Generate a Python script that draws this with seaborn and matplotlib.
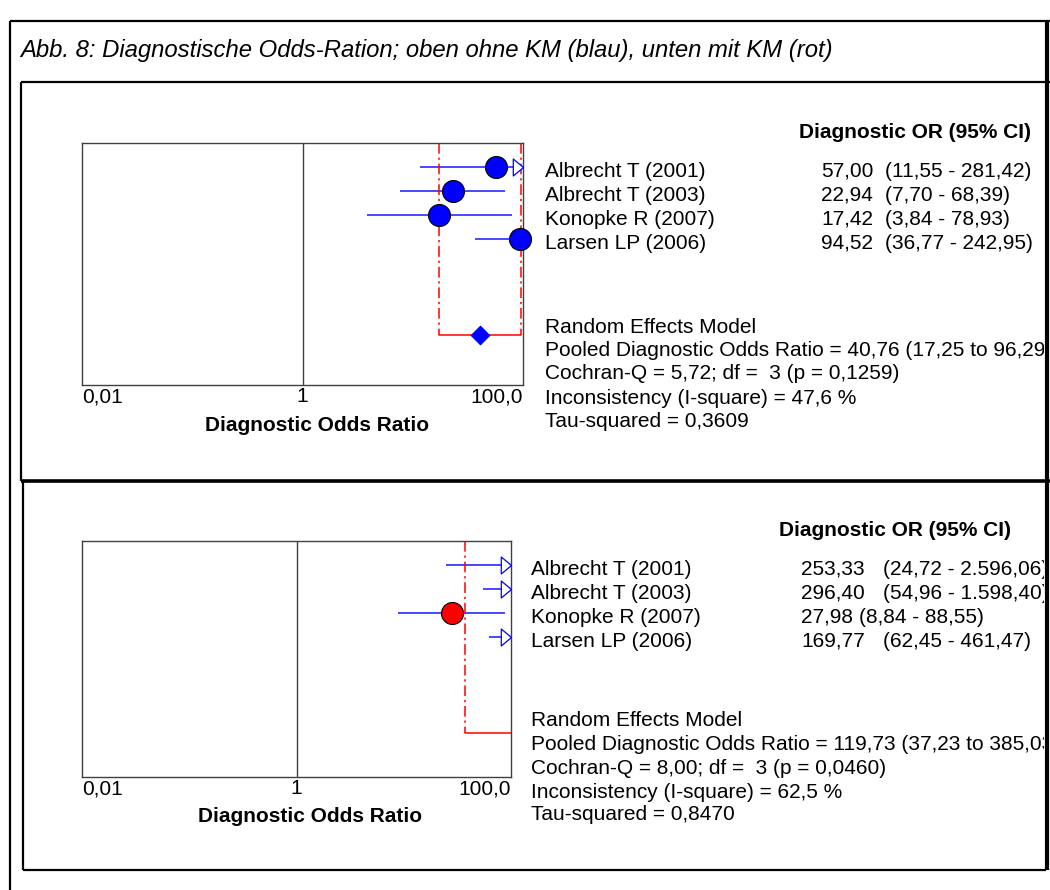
import numpy as np
import matplotlib
matplotlib.use("Agg")
import matplotlib.pyplot as plt
import seaborn as sns
import pandas as pd
from matplotlib import transforms, font_manager
from matplotlib.lines import Line2D
from matplotlib.patches import Rectangle
from matplotlib.path import Path

# ---------------- data ----------------
studies = ["Albrecht T (2001)", "Albrecht T (2003)", "Konopke R (2007)", "Larsen LP (2006)"]

or_top = [57.00, 22.94, 17.42, 94.52]
lo_top = [11.55, 7.70, 3.84, 36.77]
hi_top = [281.42, 68.39, 78.93, 242.95]
pooled_top = [40.76, 17.25, 96.29]
q_top, df_top, p_top, i2_top, tau2_top = 5.72, 3, 0.1259, 47.6, 0.3609

or_bot = [253.33, 296.40, 27.98, 169.77]
lo_bot = [24.72, 54.96, 8.84, 62.45]
hi_bot = [2596.06, 1598.40, 88.55, 461.47]
pooled_bot = [119.73, 37.23, 385.03]
q_bot, df_bot, p_bot, i2_bot, tau2_bot = 8.00, 3, 0.0460, 62.5, 0.8470

tick_vals = [0.01, 1, 100]
tick_labels = ["0,01", "1", "100,0"]
title = "Abb. 8: Diagnostische Odds-Ration; oben ohne KM (blau), unten mit KM (rot)"
header = "Diagnostic OR (95% CI)"
xlabel = "Diagnostic Odds Ratio"

# ---------------- style ----------------
sns.set_style("white")
plt.rcParams["font.family"] = ["Liberation Sans", "DejaVu Sans"]
plt.rcParams["text.color"] = "black"
plt.rcParams["xtick.color"] = "black"
plt.rcParams["xtick.labelcolor"] = "black"
avail = {f.name for f in font_manager.fontManager.ttflist}
narrow = "Liberation Sans Narrow" in avail
title_family = ["Liberation Sans Narrow"] if narrow else ["Liberation Sans"]
title_size = 19 if narrow else 17.2

W, H = 1050, 890
fig = plt.figure(figsize=(W / 100, H / 100), dpi=100)
fig.patch.set_facecolor("white")


def fx(px):
    return px / W


def fy(py):
    return 1 - py / H


def de(v, n=2):
    s = f"{v:,.{n}f}"
    return s.replace(",", "X").replace(".", ",").replace("X", ".")


FS = 15.0
BASE = 7.5          # px from visual centre to baseline
BLUE = "#0000ff"
CI_BLUE = "#4848ff"
RED = "#ff0000"
GRAY = "#404040"
XMIN, XMAX = 0.01, 100

arrow_path = Path([(-0.6, -0.5), (0.0, 0.0), (-0.6, 0.5), (-0.6, -0.5)],
                  [Path.MOVETO, Path.LINETO, Path.LINETO, Path.CLOSEPOLY])


def panel(box, ylim_bottom, ors, los, his, pooled, point_color, stats,
          name_x, val_x, ci_x_long, ci_x_short, header_xy, stat_x, stat_ys,
          label_xy, diamond_color):
    left, top, right, bottom = box
    ax = fig.add_axes([fx(left), fy(bottom), (right - left) / W, (bottom - top) / H])
    rows = np.arange(1, len(ors) + 1)
    df = pd.DataFrame({"study": studies, "or": ors, "lo": los, "hi": his, "row": rows})

    ax.set_xscale("log")
    ax.set_xlim(XMIN, XMAX)
    ax.set_ylim(ylim_bottom, 0)
    row_px = (bottom - top) / ylim_bottom

    # reference line at OR = 1
    ax.axvline(1, color=GRAY, lw=1, zorder=1)

    # confidence intervals
    ax.hlines(df["row"], df["lo"].clip(upper=XMAX), df["hi"].clip(upper=XMAX),
              color=CI_BLUE, lw=1.4, zorder=2)
    # open arrows where the CI leaves the axis
    out = df[df["hi"] > XMAX]
    ax.plot(np.full(len(out), XMAX), out["row"], linestyle="none", marker=arrow_path,
            markersize=14.7, markerfacecolor="white", markeredgecolor=BLUE,
            markeredgewidth=0.9, clip_on=False, zorder=3)

    # point estimates inside the axis
    inside = df[(df["or"] >= XMIN) & (df["or"] <= XMAX)]
    sns.scatterplot(data=inside, x="or", y="row", ax=ax, color=point_color, s=250,
                    edgecolor="black", linewidth=0.8, zorder=4, clip_on=False, legend=False)

    # pooled estimate: CI bounds as dash-dot lines, joined at the summary row
    srow = len(ors) + 4
    est, plo, phi = pooled
    for b in (plo, phi):
        ax.plot([b, b], [0, srow], color=RED, lw=1.1, linestyle=(0, (7, 2.5, 1.5, 2.5)), zorder=2)
    ax.plot([plo, phi], [srow, srow], color=RED, lw=1.1, zorder=2)
    if XMIN <= est <= XMAX:
        sns.scatterplot(x=[est], y=[srow], ax=ax, marker="D", s=90, color=diamond_color,
                        edgecolor=diamond_color, zorder=5, legend=False)

    ax.set_xticks(tick_vals)
    ax.set_xticklabels(tick_labels)
    ax.xaxis.set_minor_locator(matplotlib.ticker.NullLocator())
    ax.tick_params(axis="x", length=0, pad=1.5, labelsize=FS, colors="black")
    labs = ax.get_xticklabels()
    labs[0].set_ha("left")
    labs[-1].set_ha("right")
    ax.set_yticks([])
    ax.set_xlabel("")
    ax.set_ylabel("")
    for sp in ax.spines.values():
        sp.set_color(GRAY)
        sp.set_linewidth(1)

    fig.text(fx(label_xy[0]), fy(label_xy[1] + BASE), xlabel, ha="center", va="baseline",
             fontsize=FS, fontweight="bold")

    # right-hand table
    tr = transforms.blended_transform_factory(fig.transFigure, ax.transData)
    fig.text(fx(header_xy[0]), fy(header_xy[1] + BASE), header, ha="left", va="baseline",
             fontsize=FS, fontweight="bold")
    for _, r in df.iterrows():
        vs = de(r["or"])
        ci = f"({de(r['lo'])} - {de(r['hi'])})"
        y = r["row"] + (2 + BASE) / row_px
        fig.text(fx(name_x), y, r["study"], transform=tr, ha="left", va="baseline", fontsize=FS)
        fig.text(fx(val_x), y, vs, transform=tr, ha="left", va="baseline", fontsize=FS)
        cx = ci_x_long if len(vs) > 5 else ci_x_short
        fig.text(fx(cx), y, ci, transform=tr, ha="left", va="baseline", fontsize=FS)

    q, dfv, p, i2, tau2 = stats
    lines = ["Random Effects Model",
             f"Pooled Diagnostic Odds Ratio = {de(est)} ({de(plo)} to {de(phi)})",
             f"Cochran-Q = {de(q)}; df =  {dfv} (p = {de(p, 4)})",
             f"Inconsistency (I-square) = {de(i2, 1)} %",
             f"Tau-squared = {de(tau2, 4)}"]
    for s, yy in zip(lines, stat_ys):
        fig.text(fx(stat_x), fy(yy + BASE), s, ha="left", va="baseline", fontsize=FS)
    return ax


panel((82, 143, 523, 385), 10.08, or_top, lo_top, hi_top, pooled_top, BLUE,
      (q_top, df_top, p_top, i2_top, tau2_top),
      name_x=545, val_x=821, ci_x_long=885, ci_x_short=885, header_xy=(799, 130),
      stat_x=545, stat_ys=[325, 349, 372, 396, 419], label_xy=(317, 423),
      diamond_color=BLUE)

panel((82, 541, 511, 777), 9.83, or_bot, lo_bot, hi_bot, pooled_bot, RED,
      (q_bot, df_bot, p_bot, i2_bot, tau2_bot),
      name_x=531, val_x=801, ci_x_long=883, ci_x_short=859, header_xy=(779, 528),
      stat_x=531, stat_ys=[719, 743, 766, 790, 813], label_xy=(310, 815),
      diamond_color=BLUE)

# title
fig.text(fx(20), fy(50), title, ha="left", va="center", fontsize=title_size, style="italic",
         family=title_family + ["DejaVu Sans"])

# frames (drawn on top, clipping the over-long text at the right border as in the original)
fig.add_artist(Rectangle((fx(1044), 0), 1 - fx(1044), 1, transform=fig.transFigure,
                         facecolor="white", edgecolor="none", zorder=10))


def fline(x0, y0, x1, y1, lw):
    fig.add_artist(Line2D([fx(x0), fx(x1)], [fy(y0), fy(y1)], transform=fig.transFigure,
                          color="black", lw=lw, zorder=11, solid_capstyle="butt"))


fline(10, 21, 10, 890, 1.6)        # outer left
fline(10, 21, 1050, 21, 1.6)       # outer top
fline(21, 82, 21, 481, 1.6)        # top box left
fline(21, 82, 1050, 82, 1.6)       # top box top
fline(21, 481, 1050, 481, 2.6)     # divider
fline(23, 481, 23, 870, 1.6)       # bottom box left
fline(23, 870, 1046, 870, 1.6)     # bottom box bottom
fline(1046.5, 21, 1046.5, 870, 3)  # right border

fig.savefig("out.png", dpi=100)
